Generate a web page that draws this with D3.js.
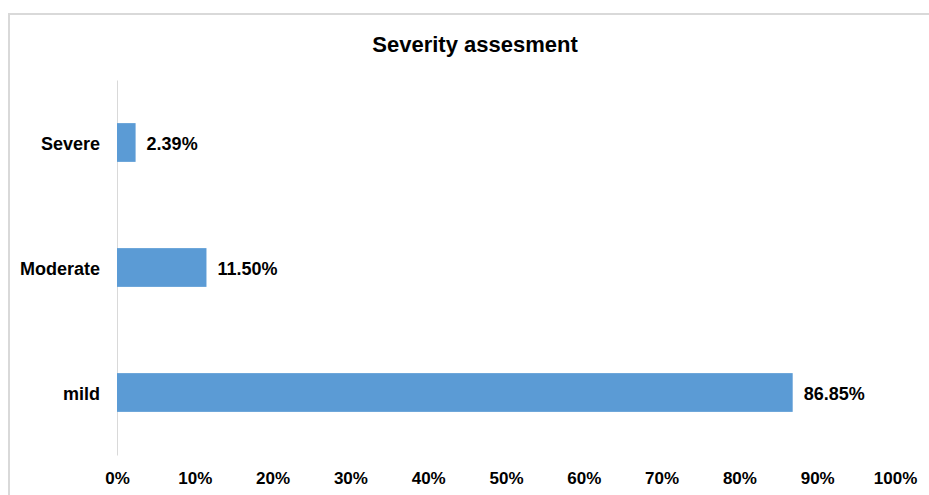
<!DOCTYPE html>
<html>
<head>
<meta charset="utf-8">
<script src="https://cdn.jsdelivr.net/npm/d3@7"></script>
<style>
  html, body { margin: 0; padding: 0; background: #fff; }
  svg text { font-family: "Liberation Sans", Arial, sans-serif; font-weight: bold; fill: #000; }
</style>
</head>
<body>
<div id="chart"></div>
<script>
(function () {
  var categories = ['Severe', 'Moderate', 'mild'];
  var values = [2.39, 11.50, 86.85];
  var valueLabels = ['2.39%', '11.50%', '86.85%'];
  var xTicks = [0, 10, 20, 30, 40, 50, 60, 70, 80, 90, 100];

  var width = 929;
  var height = 495;
  var margin = { top: 80, right: 34, bottom: 40, left: 117 };
  var innerWidth = 895 - margin.left;
  var innerHeight = 455 - margin.top;

  var svg = d3.select('#chart')
    .append('svg')
    .attr('width', width)
    .attr('height', height);

  // chart frame
  svg.append('rect')
    .attr('x', 9)
    .attr('y', 14)
    .attr('width', 930)
    .attr('height', 500)
    .attr('fill', 'none')
    .attr('stroke', '#d9d9d9')
    .attr('stroke-width', 2);

  svg.append('text')
    .attr('x', 475)
    .attr('y', 52)
    .attr('text-anchor', 'middle')
    .style('font-size', '22px')
    .text('Severity assesment');

  var plot = svg.append('g')
    .attr('transform', 'translate(' + margin.left + ',' + margin.top + ')');

  var xScale = d3.scaleLinear().domain([0, 100]).range([0, innerWidth]);
  var yScale = d3.scaleBand().domain(categories).range([0, innerHeight]).paddingInner(0.69).paddingOuter(0.345);

  var xAxis = plot.append('g')
    .attr('transform', 'translate(0,' + innerHeight + ')')
    .call(d3.axisBottom(xScale).tickValues(xTicks).tickSize(0).tickPadding(17).tickFormat(function (d) { return d + '%'; }));
  xAxis.select('.domain').remove();
  xAxis.selectAll('text')
    .style('font-size', '17px')
    .style('font-family', '"Liberation Sans", Arial, sans-serif')
    .attr('fill', '#000');

  var yAxis = plot.append('g')
    .call(d3.axisLeft(yScale).tickSize(0).tickPadding(17));
  yAxis.select('.domain').attr('stroke', '#d9d9d9').attr('stroke-width', 1);
  yAxis.selectAll('text')
    .attr('dy', '0.42em')
    .style('font-size', '18px')
    .style('font-family', '"Liberation Sans", Arial, sans-serif')
    .attr('fill', '#000');

  plot.selectAll('rect.bar')
    .data(values)
    .enter()
    .append('rect')
    .attr('class', 'bar')
    .attr('x', xScale(0))
    .attr('y', function (d, i) { return yScale(categories[i]); })
    .attr('width', function (d) { return xScale(d) - xScale(0); })
    .attr('height', yScale.bandwidth())
    .attr('fill', '#5b9bd5');

  plot.selectAll('text.val')
    .data(values)
    .enter()
    .append('text')
    .attr('class', 'val')
    .attr('x', function (d) { return xScale(d) + 11; })
    .attr('y', function (d, i) { return yScale(categories[i]) + yScale.bandwidth() / 2; })
    .attr('dy', '0.42em')
    .style('font-size', '18px')
    .text(function (d, i) { return valueLabels[i]; });
})();
</script>
</body>
</html>
